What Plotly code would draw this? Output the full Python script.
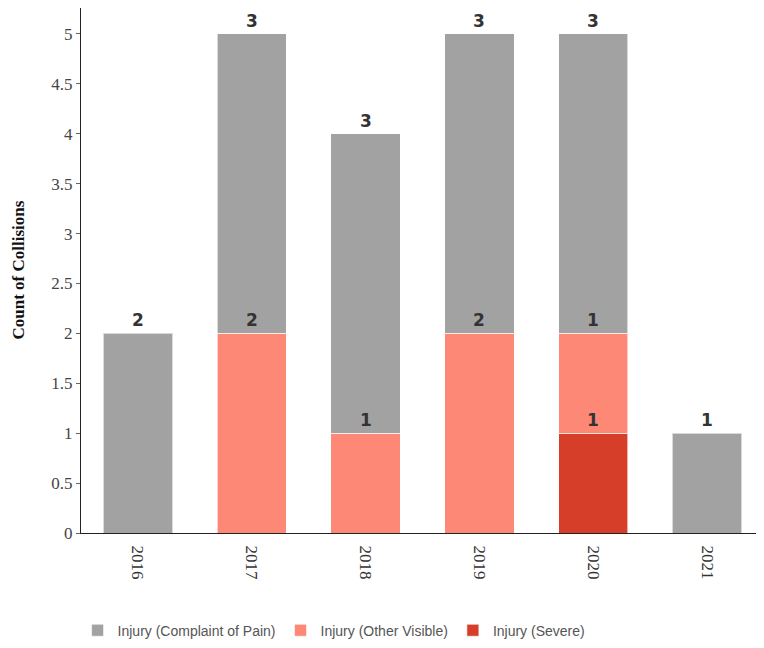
import plotly.graph_objects as go

years = ["2016", "2017", "2018", "2019", "2020", "2021"]
severe = [0, 0, 0, 0, 1, 0]
other_visible = [0, 2, 1, 2, 1, 0]
complaint_pain = [2, 3, 3, 3, 3, 1]
y_ticks = [0, 0.5, 1, 1.5, 2, 2.5, 3, 3.5, 4, 4.5, 5]
y_tick_text = ["0", "0.5", "1", "1.5", "2", "2.5", "3", "3.5", "4", "4.5", "5"]

series = [
    ("Injury (Severe)", severe, "#d63e2a"),
    ("Injury (Other Visible)", other_visible, "#fd8876"),
    ("Injury (Complaint of Pain)", complaint_pain, "#a2a2a2"),
]

fig = go.Figure()
cum = [0] * len(years)
annotations = []
for name, vals, color in series:
    fig.add_trace(go.Bar(
        x=list(range(len(years))), y=vals, name=name,
        marker=dict(color=color, line=dict(color="rgba(255,255,255,0.6)", width=1)),
        width=0.61,
    ))
    for i, v in enumerate(vals):
        cum[i] += v
        if v > 0:
            annotations.append(dict(
                x=i, y=cum[i], xref="x", yref="y",
                text="<b>%d</b>" % v, showarrow=False,
                yanchor="bottom", yshift=1,
                font=dict(family="DejaVu Sans", size=17, color="#333333"),
            ))

annotations.append(dict(
    x=(10 - 73) / 683, y=0.5, xref="paper", yref="paper",
    text="<b>Count of Collisions</b>", textangle=-90, showarrow=False,
    xanchor="center", yanchor="middle",
    font=dict(family="Liberation Serif, Times New Roman", size=17, color="#111111"),
))

fig.update_layout(
    barmode="stack",
    width=756, height=640,
    margin=dict(l=73, r=0, t=0, b=115),
    plot_bgcolor="white", paper_bgcolor="white",
    showlegend=True,
    legend=dict(
        orientation="h", traceorder="reversed",
        x=-0.005, xanchor="left", y=-0.186, yanchor="middle",
        font=dict(family="Liberation Sans, Arial", size=14, color="#555555"),
    ),
    annotations=annotations,
    xaxis=dict(
        showline=True, linecolor="#222222", linewidth=1,
        tickvals=list(range(len(years))), ticktext=years,
        tickangle=90, ticks="outside", ticklen=8, tickcolor="rgba(0,0,0,0)",
        showgrid=False, zeroline=False,
        tickfont=dict(family="Liberation Serif, Times New Roman", size=17, color="#333333"),
        range=[-0.5, 5.5], automargin=False,
    ),
    yaxis=dict(
        range=[0, 5.26], tickvals=y_ticks, ticktext=y_tick_text,
        showline=True, linecolor="#222222", linewidth=1,
        ticks="outside", ticklen=4, tickcolor="#666666",
        showgrid=False, zeroline=False, automargin=False,
        tickfont=dict(family="Liberation Serif, Times New Roman", size=17, color="#444444"),
    ),
)

fig.write_html("out.html")
